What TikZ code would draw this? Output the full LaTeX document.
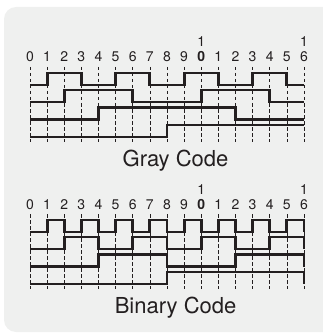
\documentclass[tikz,border=0pt]{standalone}
\usepackage{fontspec}
\setmainfont{TeX Gyre Heros}
\definecolor{panelgray}{HTML}{EFF0EF}
\definecolor{ink}{HTML}{231F20}
\tikzset{
  wave/.style={line width=2.9pt, ink, line join=miter},
  guide/.style={line width=0.7pt, ink, dash pattern=on 3.5pt off 2.5pt},
  num/.style={anchor=base, inner sep=0pt, font=\fontsize{14}{14}\selectfont, text=ink},
  title/.style={anchor=base, inner sep=0pt, font=\fontsize{22}{22}\selectfont, text=ink},
}
% one trace: low level, then one bit per step
\newcommand{\wave}[3][]{%
  \draw[wave] (0,#2) \foreach \b [count=\i from 0] in {#3} { -- (\i,#2-12*\b) -- (\i+1,#2-12*\b) } #1;}

\begin{document}
\begin{tikzpicture}[x=1pt, y=-1pt]
    \useasboundingbox (0,0) rectangle (323,334);
    \fill[panelgray, rounded corners=12pt] (4,7) rectangle (345,332);

    \begin{scope}[xshift=30pt, x=17.125pt]
    % grid and step numbers, for both panels
    \foreach \off/\tag in {0/g, 147/b} {
        \foreach \x in {0,...,16}
            \draw[guide] (\x,67+\off) -- (\x,142+\off);
        \foreach \d [count=\x from 0] in {0,1,2,3,4,5,6,7,8,9,\textbf{0},1,2,3,4,5,6}
            \node[num] (\tag\x) at (\x,62+\off) {\d};
        \node[num] (\tag top10) at (10,47+\off) {1};
        \node[num] (\tag top16) at (16,47+\off) {1};
    }

    % Gray code
    \wave{85}{0,1,1,0,0,1,1,0,0,1,1,0,0,1,1,0}
    \wave{102}{0,0,1,1,1,1,0,0,0,0,1,1,1,1,0,0}
    \wave{119.5}{0,0,0,0,1,1,1,1,1,1,1,1,0,0,0,0}
    \wave{137}{0,0,0,0,0,0,0,0,1,1,1,1,1,1,1,1}
    \node[title] (graytitle) at (8.5,166) {Gray Code};

    % Binary code
    \wave[-- (16,232)]{232}{0,1,0,1,0,1,0,1,0,1,0,1,0,1,0,1}
    \wave[-- (16,249)]{249}{0,0,1,1,0,0,1,1,0,0,1,1,0,0,1,1}
    \wave[-- (16,266.5)]{266.5}{0,0,0,0,1,1,1,1,0,0,0,0,1,1,1,1}
    \wave[-- (16,284)]{284}{0,0,0,0,0,0,0,0,1,1,1,1,1,1,1,1}
    \node[title] (bintitle) at (8.5,313) {Binary Code};
    \end{scope}
\end{tikzpicture}
\end{document}
